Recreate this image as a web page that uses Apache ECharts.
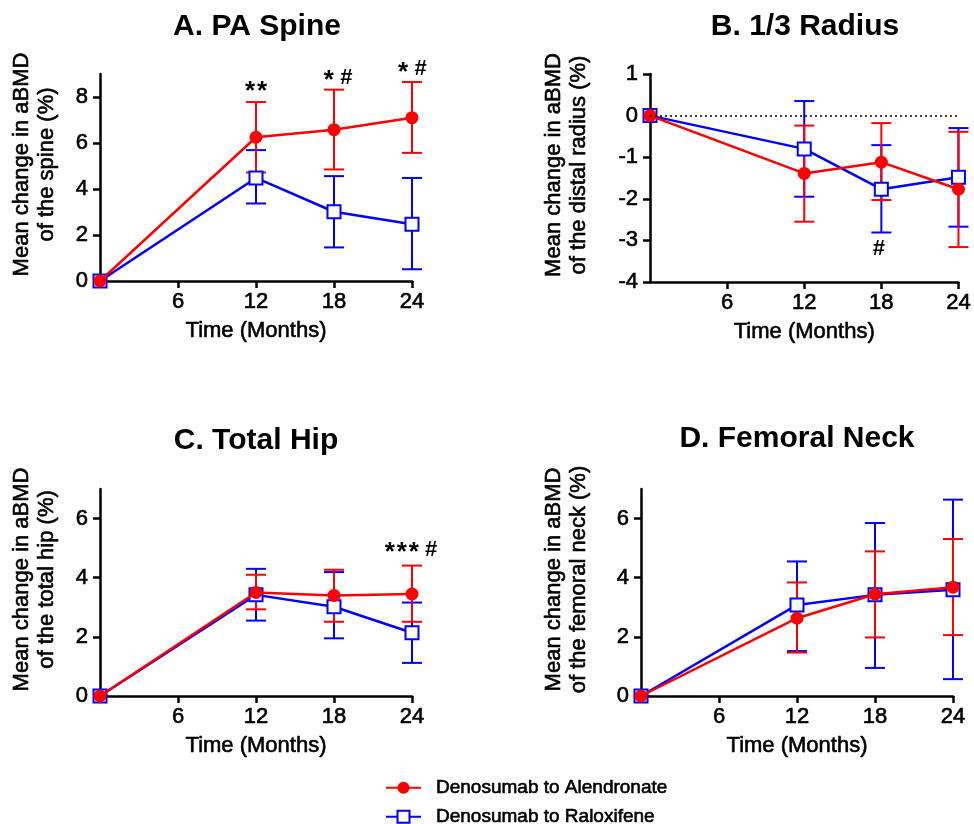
<!DOCTYPE html>
<html>
<head>
<meta charset="utf-8">
<script src="https://cdn.jsdelivr.net/npm/echarts@6/dist/echarts.min.js"></script>
<style>
html, body { margin:0; padding:0; background:#fff; }
#main { width:974px; height:824px; }
</style>
</head>
<body>
<div id="main"></div>
<script>
var months = [0, 12, 18, 24];
var xTicks = [6, 12, 18, 24];
var groups = ['Denosumab to Alendronate', 'Denosumab to Raloxifene'];

// A. PA Spine
var spineAlnMean = [0, 6.25, 6.58, 7.10];
var spineAlnLow  = [0, 4.72, 4.85, 5.57];
var spineAlnHigh = [0, 7.78, 8.32, 8.65];
var spineRalMean = [0, 4.48, 3.01, 2.47];
var spineRalLow  = [0, 3.37, 1.46, 0.51];
var spineRalHigh = [0, 5.69, 4.56, 4.48];
var spineNoteX = [12, 18.3, 24];
var spineNoteY = [8.36, 8.85, 9.2];
var spineNoteText = ['**', '* #', '* #'];

// B. 1/3 Radius
var radiusAlnMean = [0, -1.39, -1.12, -1.77];
var radiusAlnLow  = [0, -2.55, -2.03, -3.16];
var radiusAlnHigh = [0, -0.24, -0.18, -0.39];
var radiusRalMean = [0, -0.80, -1.77, -1.48];
var radiusRalLow  = [0, -1.95, -2.81, -2.67];
var radiusRalHigh = [0, 0.35, -0.71, -0.30];
var radiusNoteX = [17.8];
var radiusNoteY = [-3.21];
var radiusNoteText = ['#'];

// C. Total Hip
var hipAlnMean = [0, 3.50, 3.40, 3.45];
var hipAlnLow  = [0, 2.93, 2.51, 2.51];
var hipAlnHigh = [0, 4.10, 4.27, 4.41];
var hipRalMean = [0, 3.42, 3.02, 2.14];
var hipRalLow  = [0, 2.55, 1.95, 1.12];
var hipRalHigh = [0, 4.30, 4.19, 3.16];
var hipNoteX = [23.9];
var hipNoteY = [4.95];
var hipNoteText = ['*** #'];

// D. Femoral Neck
var neckAlnMean = [0, 2.63, 3.44, 3.68];
var neckAlnLow  = [0, 1.47, 1.98, 2.06];
var neckAlnHigh = [0, 3.84, 4.89, 5.31];
var neckRalMean = [0, 3.08, 3.42, 3.59];
var neckRalLow  = [0, 1.52, 0.95, 0.57];
var neckRalHigh = [0, 4.55, 5.85, 6.64];

var spineTicks = [0, 2, 4, 6, 8];
var radiusTicks = [1, 0, -1, -2, -3, -4];
var hipTicks = [0, 2, 4, 6];

var FONT = 'Liberation Sans, Arial, Helvetica, sans-serif';
var RED = '#ff0000', BLUE = '#0000ff';
// slightly heavier glyphs, like the original export
var heavy = { textBorderColor:'#000', textBorderWidth:0.6 };

var panels = [
  { title:'A. PA Spine', tx:257, ty:12, ylab:'Mean change in aBMD\nof the spine (%)', gap:41,
    grid:{left:100, top:74, width:312, height:207}, min:0, max:9, ticks:spineTicks,
    aln:[spineAlnMean, spineAlnLow, spineAlnHigh], ral:[spineRalMean, spineRalLow, spineRalHigh],
    notes:[spineNoteX, spineNoteY, spineNoteText] },
  { title:'B. 1/3 Radius', tx:805, ty:12, ylab:'Mean change in aBMD\nof the distal radius (%)', gap:59,
    grid:{left:650, top:74, width:312, height:208}, min:-4, max:1, ticks:radiusTicks,
    aln:[radiusAlnMean, radiusAlnLow, radiusAlnHigh], ral:[radiusRalMean, radiusRalLow, radiusRalHigh],
    notes:[radiusNoteX, radiusNoteY, radiusNoteText], zeroLine:true },
  { title:'C. Total Hip', tx:256, ty:426, ylab:'Mean change in aBMD\nof the total hip (%)', gap:41,
    grid:{left:100, top:489, width:312, height:207}, min:0, max:7, ticks:hipTicks,
    aln:[hipAlnMean, hipAlnLow, hipAlnHigh], ral:[hipRalMean, hipRalLow, hipRalHigh],
    notes:[hipNoteX, hipNoteY, hipNoteText] },
  { title:'D. Femoral Neck', tx:797, ty:424, ylab:'Mean change in aBMD\nof the femoral neck (%)', gap:50,
    grid:{left:641, top:489, width:312, height:207}, min:0, max:7, ticks:hipTicks,
    aln:[neckAlnMean, neckAlnLow, neckAlnHigh], ral:[neckRalMean, neckRalLow, neckRalHigh],
    notes:null }
];

function withHeavy(o) {
  return Object.assign({}, o, heavy);
}

function errorBars(gi, arr, color) {
  var data = [];
  months.forEach(function(m, i){
    if (arr[1][i] !== arr[2][i]) data.push([m, arr[1][i], arr[2][i]]);
  });
  return {
    type:'custom', xAxisIndex:gi, yAxisIndex:gi, silent:true, clip:false,
    encode:{ x:0, y:[1, 2] }, data:data,
    renderItem:function(params, api){
      var x = api.value(0);
      var lo = api.coord([x, api.value(1)]);
      var hi = api.coord([x, api.value(2)]);
      var w = 10, st = { stroke:color, lineWidth:2 };
      return { type:'group', children:[
        { type:'line', shape:{ x1:lo[0], y1:lo[1], x2:hi[0], y2:hi[1] }, style:st },
        { type:'line', shape:{ x1:hi[0]-w, y1:hi[1], x2:hi[0]+w, y2:hi[1] }, style:st },
        { type:'line', shape:{ x1:lo[0]-w, y1:lo[1], x2:lo[0]+w, y2:lo[1] }, style:st }
      ]};
    }
  };
}

function meanLine(gi, name, mean, isAln) {
  return {
    name:name, type:'line', xAxisIndex:gi, yAxisIndex:gi, clip:false, silent:true,
    data: months.map(function(m, i){ return [m, mean[i]]; }),
    lineStyle:{ color:isAln ? RED : BLUE, width:2.5 },
    symbol:isAln ? 'circle' : 'rect', symbolSize:13,
    itemStyle: isAln ? { color:RED } : { color:'#fff', borderColor:BLUE, borderWidth:2 },
    z:isAln ? 4 : 3
  };
}

// significance marks: stars drawn larger than '#', like the original
function notesSeries(gi, notes) {
  var adv = { '*':12, ' ':5, '#':13 };
  return {
    type:'custom', xAxisIndex:gi, yAxisIndex:gi, silent:true, clip:false, z:6,
    data: notes[0].map(function(x, i){ return [x, notes[1][i]]; }),
    renderItem:function(params, api){
      var p = api.coord([api.value(0), api.value(1)]);
      var chars = notes[2][params.dataIndex].split('');
      var total = chars.reduce(function(a, c){ return a + adv[c]; }, 0);
      var cx = p[0] - total / 2, kids = [];
      chars.forEach(function(c){
        if (c !== ' ') {
          var star = c === '*';
          kids.push({ type:'text', x:cx + adv[c] / 2, y:p[1] + (star ? 3 : 0), style:{
            text:c, fontSize:star ? 26 : 22, fontWeight:'bold', fontFamily:FONT,
            fill:'#000', align:'center', verticalAlign:'middle' } });
        }
        cx += adv[c];
      });
      return { type:'group', children:kids };
    }
  };
}

var legendBase = {
  orient:'vertical', left:385, padding:0, itemWidth:35, itemHeight:15, selectedMode:false,
  textStyle:withHeavy({ fontSize:19, color:'#000', fontFamily:FONT, padding:[0,0,0,10] })
};

var option = {
  backgroundColor:'#fff',
  animation:false,
  title:[], grid:[], xAxis:[], yAxis:[], series:[],
  legend:[
    Object.assign({}, legendBase, { data:[groups[0]], top:778 }),
    Object.assign({}, legendBase, { data:[groups[1]], top:807 })
  ]
};

panels.forEach(function(p, gi){
  option.title.push({ text:p.title, left:p.tx, top:p.ty, textAlign:'center', padding:0,
    textStyle:{ fontSize:30, fontWeight:'bold', color:'#000', fontFamily:FONT } });
  option.grid.push(p.grid);
  option.xAxis.push({
    type:'value', gridIndex:gi, min:0, max:24, interval:6,
    name:'Time (Months)', nameLocation:'middle', nameGap:39,
    nameTextStyle:withHeavy({ fontSize:22, color:'#000', fontFamily:FONT }),
    axisLine:{ onZero:false, lineStyle:{ color:'#000', width:2.5 } },
    axisTick:{ customValues:xTicks, length:7, lineStyle:{ color:'#000', width:2.5 } },
    axisLabel:withHeavy({ customValues:xTicks, margin:10, fontSize:22, color:'#000', fontFamily:FONT }),
    splitLine:{ show:false }
  });
  option.yAxis.push({
    type:'value', gridIndex:gi, min:p.min, max:p.max,
    name:p.ylab, nameLocation:'middle', nameGap:p.gap,
    nameTextStyle:withHeavy({ fontSize:22, color:'#000', fontFamily:FONT, lineHeight:25, padding:[0,0,0,26] }),
    axisLine:{ show:true, lineStyle:{ color:'#000', width:2.5 } },
    axisTick:{ show:true, customValues:p.ticks, length:7, lineStyle:{ color:'#000', width:2.5 } },
    axisLabel:withHeavy({ customValues:p.ticks, margin:12, fontSize:22, color:'#000', fontFamily:FONT }),
    splitLine:{ show:false }
  });
  option.series.push(errorBars(gi, p.ral, BLUE));
  var ral = meanLine(gi, groups[1], p.ral[0], false);
  if (p.zeroLine) {
    ral.markLine = { silent:true, symbol:'none', label:{ show:false },
      lineStyle:{ type:[2, 3], color:'#000', width:1.5 },
      data:[[{ coord:[0, 0] }, { coord:[24, 0] }]] };
  }
  option.series.push(ral);
  option.series.push(errorBars(gi, p.aln, RED));
  option.series.push(meanLine(gi, groups[0], p.aln[0], true));
  if (p.notes) option.series.push(notesSeries(gi, p.notes));
});

var chart = echarts.init(document.getElementById('main'));
chart.setOption(option);
</script>
</body>
</html>
